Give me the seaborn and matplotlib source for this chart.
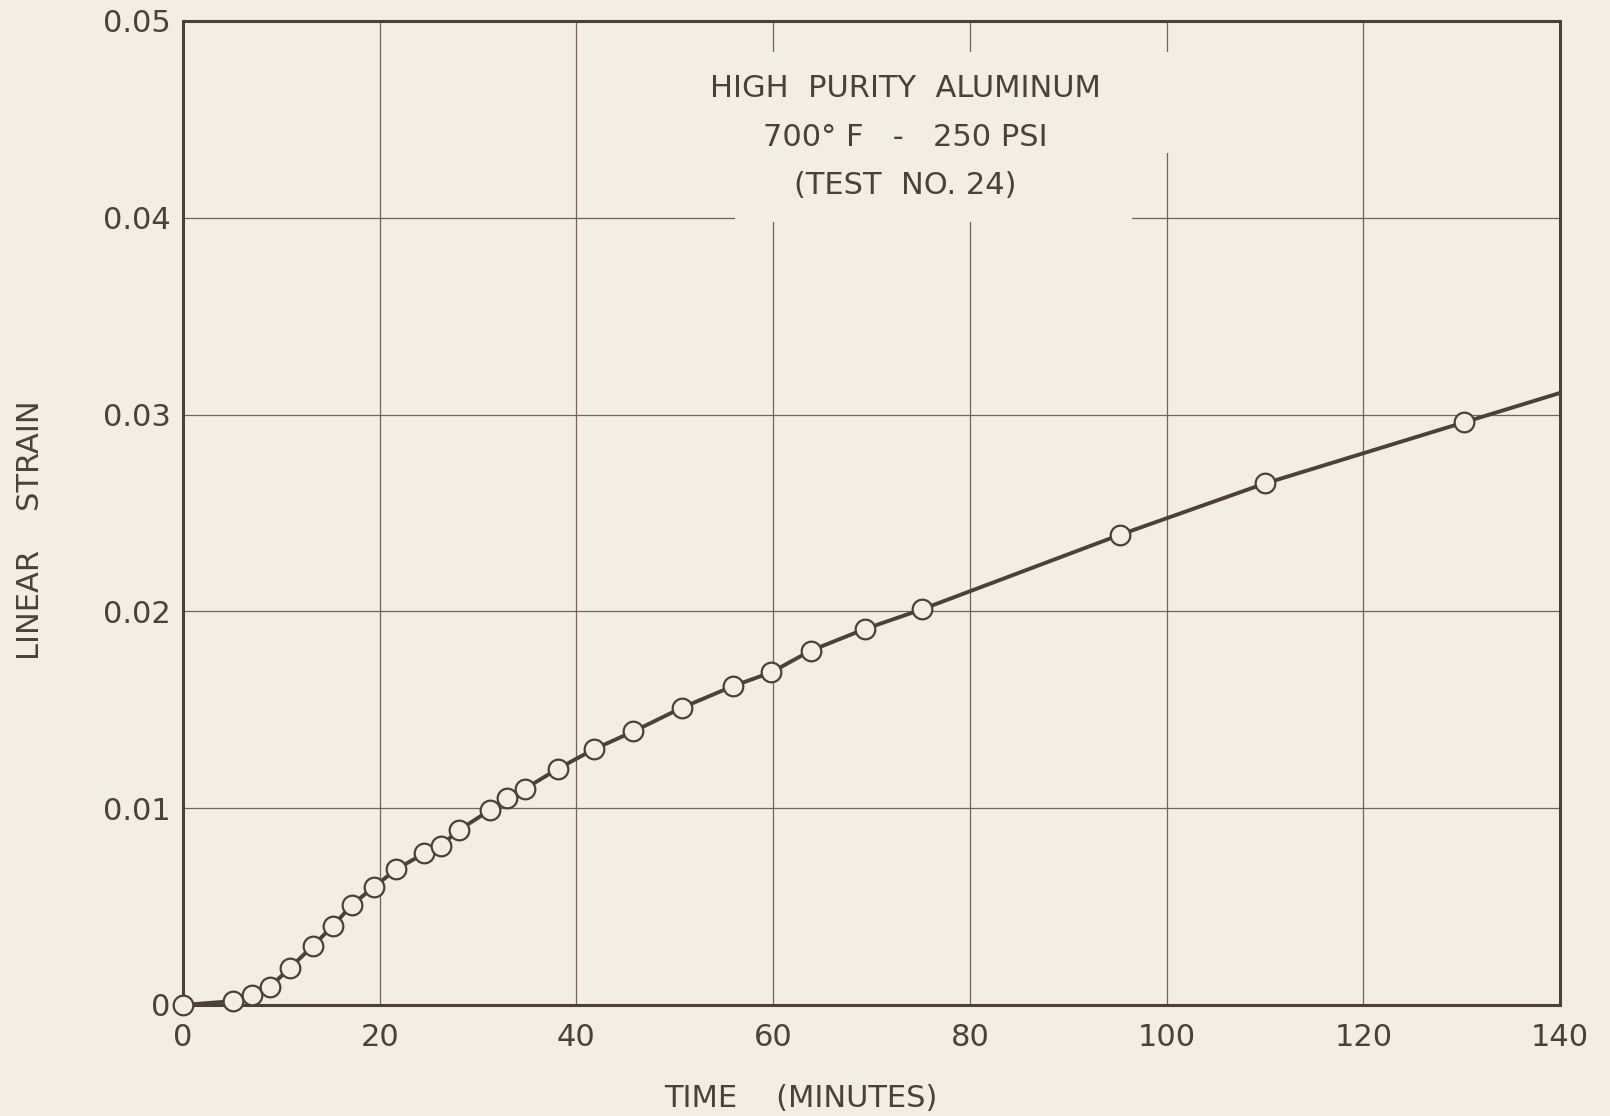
import matplotlib
matplotlib.use("Agg")
import matplotlib.pyplot as plt
import matplotlib.patches as mpatches
import seaborn as sns
import pandas as pd

# ---- data ----
time_min = [0, 5.1, 7.0, 8.8, 10.9, 13.2, 15.2, 17.2, 19.4, 21.7, 24.5, 26.2, 28.1,
            31.2, 32.9, 34.8, 38.1, 41.8, 45.8, 50.7, 55.9, 59.8, 63.8, 69.3, 75.1,
            95.3, 110.0, 130.2]
strain = [0.0, 0.0002, 0.0005, 0.0009, 0.0019, 0.0030, 0.0040, 0.0051, 0.0060, 0.0069,
          0.0077, 0.0081, 0.0089, 0.0099, 0.0105, 0.0110, 0.0120, 0.0130, 0.0139, 0.0151,
          0.0162, 0.0169, 0.0180, 0.0191, 0.0201, 0.0239, 0.0265, 0.0296]
curve_end_time = [140.0]
curve_end_strain = [0.0311]

x_ticks = [0, 20, 40, 60, 80, 100, 120, 140]
x_tick_labels = ["0", "20", "40", "60", "80", "100", "120", "140"]
y_ticks = [0, 0.01, 0.02, 0.03, 0.04, 0.05]
y_tick_labels = ["0", "0.01", "0.02", "0.03", "0.04", "0.05"]

title_lines = ["HIGH  PURITY  ALUMINUM", "700° F   -   250 PSI", "(TEST  NO. 24)"]
x_label = "TIME    (MINUTES)"
y_label = "LINEAR    STRAIN"

# ---- style ----
bg = "#F2EEE3"
ink = "#4A413B"
grid_c = "#6E645C"

sns.set_theme(style="white")
plt.rcParams["font.family"] = ["DejaVu Sans"]

fig = plt.figure(figsize=(16.1, 11.16), dpi=100, facecolor=bg)
ax = fig.add_axes([183 / 1610, 1 - 1005 / 1116, 1377 / 1610, 984 / 1116])
ax.set_facecolor(bg)

curve = pd.DataFrame({"t": time_min + curve_end_time, "s": strain + curve_end_strain})
pts = pd.DataFrame({"t": time_min, "s": strain})

sns.lineplot(data=curve, x="t", y="s", ax=ax, color=ink, linewidth=2.8,
             sort=False, estimator=None, zorder=4)
sns.scatterplot(data=pts, x="t", y="s", ax=ax, s=200, marker="o",
                facecolor=bg, edgecolor=ink, linewidth=1.6, zorder=5, clip_on=False)

ax.set_xlim(0, 140)
ax.set_ylim(0, 0.05)
ax.set_xticks(x_ticks)
ax.set_xticklabels(x_tick_labels)
ax.set_yticks(y_ticks)
ax.set_yticklabels(y_tick_labels)
ax.tick_params(axis="both", length=0, labelsize=22, labelcolor=ink)
ax.tick_params(axis="x", pad=13)
ax.tick_params(axis="y", pad=9)

ax.grid(True, color=grid_c, linewidth=0.9, zorder=1)
ax.set_axisbelow(True)
for sp in ax.spines.values():
    sp.set_visible(True)
    sp.set_color(ink)
    sp.set_linewidth(2.2)

ax.set_xlabel(x_label, fontsize=22, color=ink)
ax.set_ylabel(y_label, fontsize=22, color=ink)
ax.xaxis.set_label_coords(0.449, -0.080)
ax.yaxis.set_label_coords(-0.100, 0.483)

# blank patches where the gridlines were left off behind the legend text
ax.add_patch(mpatches.Rectangle((56.1, 0.0398), 40.4, 0.0086, facecolor=bg,
                                edgecolor="none", zorder=2))
ax.add_patch(mpatches.Rectangle((96.5, 0.0433), 4.5, 0.0051, facecolor=bg,
                                edgecolor="none", zorder=2))

ax.text(73.4, 0.0441, "\n".join(title_lines), ha="center", va="center",
        fontsize=22, color=ink, linespacing=1.85, zorder=6)

fig.savefig("out.png", dpi=100, facecolor=bg)
